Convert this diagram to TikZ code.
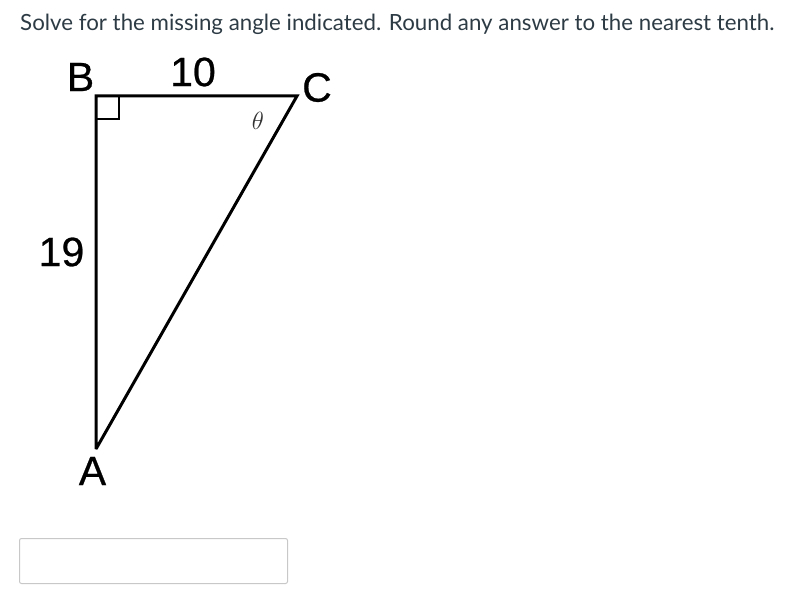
\documentclass[tikz,border=0pt]{standalone}
\usepackage{fontspec}
\setmainfont{Lato}
\newfontfamily\arialfont[FakeBold=0.6]{Liberation Sans}
\definecolor{qtext}{HTML}{2D3B45}
\definecolor{boxgray}{HTML}{C8C8C8}
\begin{document}
\begin{tikzpicture}[x=1pt,y=-1pt,
  lbl/.style={font=\arialfont\fontsize{41}{44}\selectfont, inner sep=0pt},
  side/.style={line width=3pt, line join=miter, miter limit=3}]
\useasboundingbox (0,0) rectangle (789,607);
\node[anchor=base west, inner sep=0pt, text=qtext, font=\fontsize{22.3}{26}\selectfont] (q) at (20,31) {Solve for the missing angle indicated. Round any answer to the nearest tenth.};
\coordinate (B) at (96,96);
\coordinate (C) at (297,96);
\coordinate (A) at (96,449);
\draw[side] (A) -- (B) -- (C) -- cycle;
\draw[line width=2.5pt] (96,119) -- (119,119) -- (119,96);
\node[lbl] (lB) at (80.5,77) {B};
\node[lbl] (l10) at (193,72) {10};
\node[lbl] (lC) at (317,87.5) {C};
\node[inner sep=0pt, font=\fontsize{30}{32}\selectfont, text=black!80] (th) at (258,120.5) {$\theta$};
\node[lbl] (l19) at (61.5,252) {19};
\node[lbl] (lA) at (92.5,471) {A};
\draw[boxgray, line width=1pt, rounded corners=2pt] (19.5,538.5) rectangle (287.5,583.5);
\end{tikzpicture}
\end{document}
